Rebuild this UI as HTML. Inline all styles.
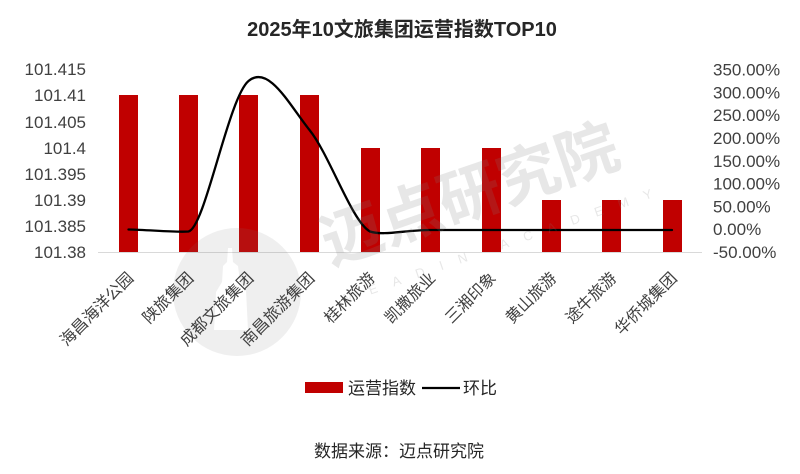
<!DOCTYPE html>
<html>
<head>
<meta charset="utf-8">
<style>
html,body{margin:0;padding:0;background:#fff;}
svg{display:block;}
text{font-family:"Liberation Sans","Noto Sans CJK SC",sans-serif;}
</style>
</head>
<body>
<svg width="800" height="474" viewBox="0 0 800 474" xmlns="http://www.w3.org/2000/svg">
<rect width="800" height="474" fill="#fff"/>

<!-- Title -->
<text x="402" y="36" text-anchor="middle" font-size="20" font-weight="bold" fill="#262626">2025年10文旅集团运营指数TOP10</text>

<!-- Left axis labels -->
<g font-size="17" fill="#404040" text-anchor="end">
<text x="86" y="258">101.38</text>
<text x="86" y="232">101.385</text>
<text x="86" y="206">101.39</text>
<text x="86" y="180">101.395</text>
<text x="86" y="154">101.4</text>
<text x="86" y="128">101.405</text>
<text x="86" y="101">101.41</text>
<text x="86" y="75">101.415</text>
</g>

<!-- Right axis labels -->
<g font-size="17" fill="#404040" text-anchor="start">
<text x="713" y="258">-50.00%</text>
<text x="713" y="235">0.00%</text>
<text x="713" y="212.4">50.00%</text>
<text x="713" y="189.6">100.00%</text>
<text x="713" y="166.8">150.00%</text>
<text x="713" y="144">200.00%</text>
<text x="713" y="121.1">250.00%</text>
<text x="713" y="98.3">300.00%</text>
<text x="713" y="75.5">350.00%</text>
</g>

<!-- Bars -->
<g fill="#c00000">
<rect x="119" y="95" width="19" height="157"/>
<rect x="179" y="95" width="19" height="157"/>
<rect x="239" y="95" width="19" height="157"/>
<rect x="300" y="95" width="19" height="157"/>
<rect x="361" y="148" width="19" height="104"/>
<rect x="421" y="148" width="19" height="104"/>
<rect x="482" y="148" width="19" height="104"/>
<rect x="542" y="200" width="19" height="52"/>
<rect x="602" y="200" width="19" height="52"/>
<rect x="663" y="200" width="19" height="52"/>
</g>

<!-- Axis line -->
<line x1="98" y1="252.5" x2="702" y2="252.5" stroke="#d9d9d9" stroke-width="1"/>

<!-- Line series -->
<path d="M128.5,229.5 C148.5,229.8 175,232.5 188.5,231.5 C205,228 228.3,97.9 248.5,81 C268.7,64.1 289.25,104.8 309.5,130 C329.75,155.1 352,222 370,231.5 C384,236 405,230 430,230 L672,230" fill="none" stroke="#000" stroke-width="2.3" stroke-linejoin="round" stroke-linecap="round"/>

<!-- Watermark -->
<g opacity="0.12">
<circle cx="237" cy="292" r="64" fill="#7f7f7f"/>
<path d="M228,248 L232,248 L233,262 L238,266 L240,282 L246,290 L248,330 L214,330 L216,292 L222,282 L223,266 L227,262 Z" fill="#fff"/>
</g>
<g opacity="0.18" fill="#7f7f7f">
<text x="470" y="216" text-anchor="middle" font-size="62" font-weight="bold" transform="rotate(-19 470 195)">迈点研究院</text>
<text x="505" y="248" text-anchor="middle" font-size="13" letter-spacing="16" transform="rotate(-19 505 243)">MEADIN ACADEMY</text>
</g>

<!-- X labels -->
<g font-size="16" fill="#404040" text-anchor="end">
<text transform="translate(134.5,279) rotate(-45)">海昌海洋公园</text>
<text transform="translate(194.5,279) rotate(-45)">陕旅集团</text>
<text transform="translate(254.5,279) rotate(-45)">成都文旅集团</text>
<text transform="translate(315.5,279) rotate(-45)">南昌旅游集团</text>
<text transform="translate(376,279) rotate(-45)">桂林旅游</text>
<text transform="translate(436.5,279) rotate(-45)">凯撒旅业</text>
<text transform="translate(497,279) rotate(-45)">三湘印象</text>
<text transform="translate(557.5,279) rotate(-45)">黄山旅游</text>
<text transform="translate(617.5,279) rotate(-45)">途牛旅游</text>
<text transform="translate(678,279) rotate(-45)">华侨城集团</text>
</g>

<!-- Legend -->
<rect x="305" y="382" width="38" height="11" fill="#c00000"/>
<text x="348" y="394" font-size="17" fill="#262626">运营指数</text>
<line x1="422" y1="388" x2="460" y2="388" stroke="#000" stroke-width="2.3"/>
<text x="463" y="394" font-size="17" fill="#262626">环比</text>

<!-- Source -->
<text x="399" y="457" text-anchor="middle" font-size="17" fill="#262626">数据来源：迈点研究院</text>
</svg>
</body>
</html>
